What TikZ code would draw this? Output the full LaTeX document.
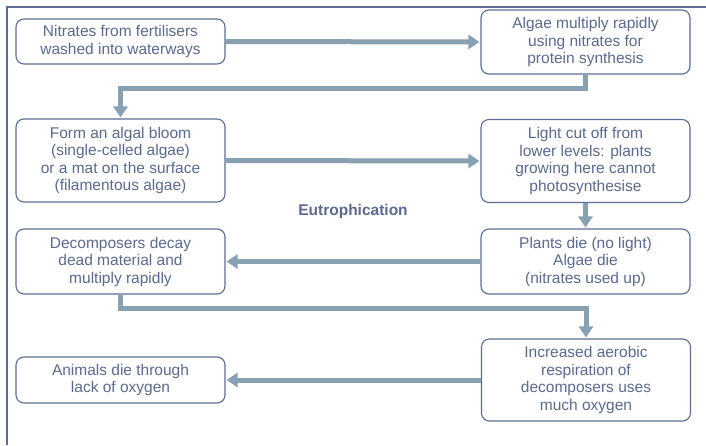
\documentclass[tikz,border=0pt]{standalone}
\usepackage{fontspec}
\setmainfont{Liberation Sans}
\usetikzlibrary{arrows.meta}
\definecolor{boxline}{HTML}{5E6C92}
\definecolor{txt}{HTML}{5C6A8E}
\definecolor{conn}{HTML}{87A1B3}
\tikzset{
  stagebox/.style={draw=boxline, line width=1.1pt, rounded corners=8pt, fill=white,
    text=txt, align=center, inner sep=0pt, minimum width=209pt,
    font=\fontsize{15.5}{17.5}\selectfont},
  flow/.style={draw=conn, line width=5pt,
    -{Triangle[width=14pt,length=11pt]}, shorten >=1pt},
}
\begin{document}
\begin{tikzpicture}[x=1pt,y=-1pt]
\useasboundingbox (0,0) rectangle (706,445);
\fill[white] (0,0) rectangle (706,445);
\draw[boxline, line width=1.2pt] (706,7) -- (7,7) -- (7,445);

\node[stagebox, minimum height=45pt] (b1) at (120.5,41.5) {Nitrates from fertilisers\\washed into waterways};
\node[stagebox, minimum height=64pt] (b2) at (585.5,42) {Algae multiply rapidly\\using nitrates for\\protein synthesis};
\node[stagebox, minimum height=83pt] (b3) at (120.5,160.5) {Form an algal bloom\\(single-celled algae)\\or a mat on the surface\\(filamentous algae)};
\node[stagebox, minimum height=83pt] (b4) at (585.5,161) {Light cut off from\\lower levels: plants\\growing here cannot\\photosynthesise};
\node[stagebox, minimum height=65pt] (b5) at (120.5,261.5) {Decomposers decay\\dead material and\\multiply rapidly};
\node[stagebox, minimum height=65pt] (b6) at (585.5,261.5) {Plants die (no light)\\Algae die\\(nitrates used up)};
\node[stagebox, minimum height=46pt] (b7) at (120.5,380) {Animals die through\\lack of oxygen};
\node[stagebox, minimum height=82pt] (b8) at (586,380) {Increased aerobic\\respiration of\\decomposers uses\\much oxygen};

\node[text=txt, font=\fontsize{15.5}{17.5}\selectfont\bfseries] (title) at (353,211) {Eutrophication};

\draw[flow] (b1.east) -- (b2.west);
\draw[flow] (b2.south) -- ++(0,14) -| (b3.north);
\draw[flow] (b3.east) -- (b4.west);
\draw[flow] (b4.south) -- (b6.north);
\draw[flow] (b6.west) -- (b5.east);
\draw[flow] (b5.south) -- ++(0,14) -| (b8.north);
\draw[flow] (b8.west) -- (b7.east);
\end{tikzpicture}
\end{document}
